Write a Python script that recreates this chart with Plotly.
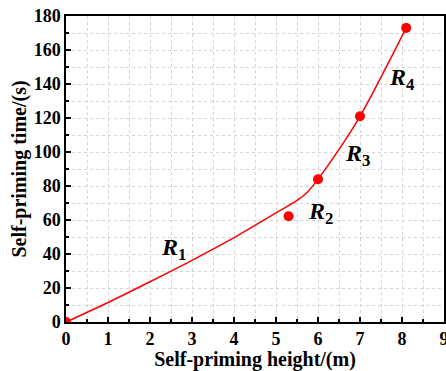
import plotly.graph_objects as go

# Measured points
pt_x = [0, 5.3, 6, 7, 8.1]
pt_y = [0, 62.2, 84, 121, 173]

# Fitted curve
curve_x = [0, 1, 2, 3, 4, 5, 5.5, 5.75, 6, 6.5, 7, 7.5, 8.1]
curve_y = [0, 11.5, 23.7, 36.3, 49.6, 64.2, 71.5, 76.5, 84, 101.5, 121, 144, 173]

# Region labels
lab_x = [2.55, 6.05, 6.95, 8.0]
lab_y = [43, 64, 98, 143]
lab_txt = ["1", "2", "3", "4"]

fig = go.Figure()
fig.add_trace(go.Scatter(x=curve_x, y=curve_y, mode="lines",
                         line=dict(color="#ff0000", width=1.5, shape="spline", smoothing=1.0),
                         showlegend=False, hoverinfo="skip"))
fig.add_trace(go.Scatter(x=pt_x, y=pt_y, mode="markers",
                         marker=dict(color="#ff0000", size=10),
                         showlegend=False))

for x, y, t in zip(lab_x, lab_y, lab_txt):
    fig.add_annotation(x=x, y=y, text=f"<b><i>R</i><sub>{t}</sub></b>", showarrow=False,
                       font=dict(family="Liberation Serif", size=24, color="black"))

axis_common = dict(
    showline=True, linecolor="black", linewidth=1.5, mirror=True,
    ticks="inside", ticklen=5, tickwidth=1.5, tickcolor="black",
    showgrid=True, gridcolor="#d4d4d4", griddash="dot", gridwidth=1,
    zeroline=False, ticklabeloverflow="allow", automargin=False,
    tickfont=dict(family="Liberation Serif", size=18, color="black", weight="bold"),
    title_font=dict(family="Liberation Serif", size=20, color="black", weight="bold"),
)

fig.update_xaxes(range=[0, 9], dtick=1, title_text="Self-priming height/(m)",
                 title_standoff=2,
                 minor=dict(dtick=0.5, ticks="inside", ticklen=3, tickcolor="black",
                            showgrid=True, gridcolor="#d4d4d4", griddash="dot"),
                 **axis_common)
fig.update_yaxes(range=[0, 180], dtick=20, title_text="Self-priming time/(s)",
                 title_standoff=2,
                 minor=dict(dtick=10, ticks="inside", ticklen=3, tickcolor="black",
                            showgrid=True, gridcolor="#d4d4d4", griddash="dot"),
                 **axis_common)

fig.update_layout(width=446, height=371,
                  margin=dict(l=66, r=2, t=16, b=49),
                  plot_bgcolor="white", paper_bgcolor="white")

fig.write_html("out.html")
